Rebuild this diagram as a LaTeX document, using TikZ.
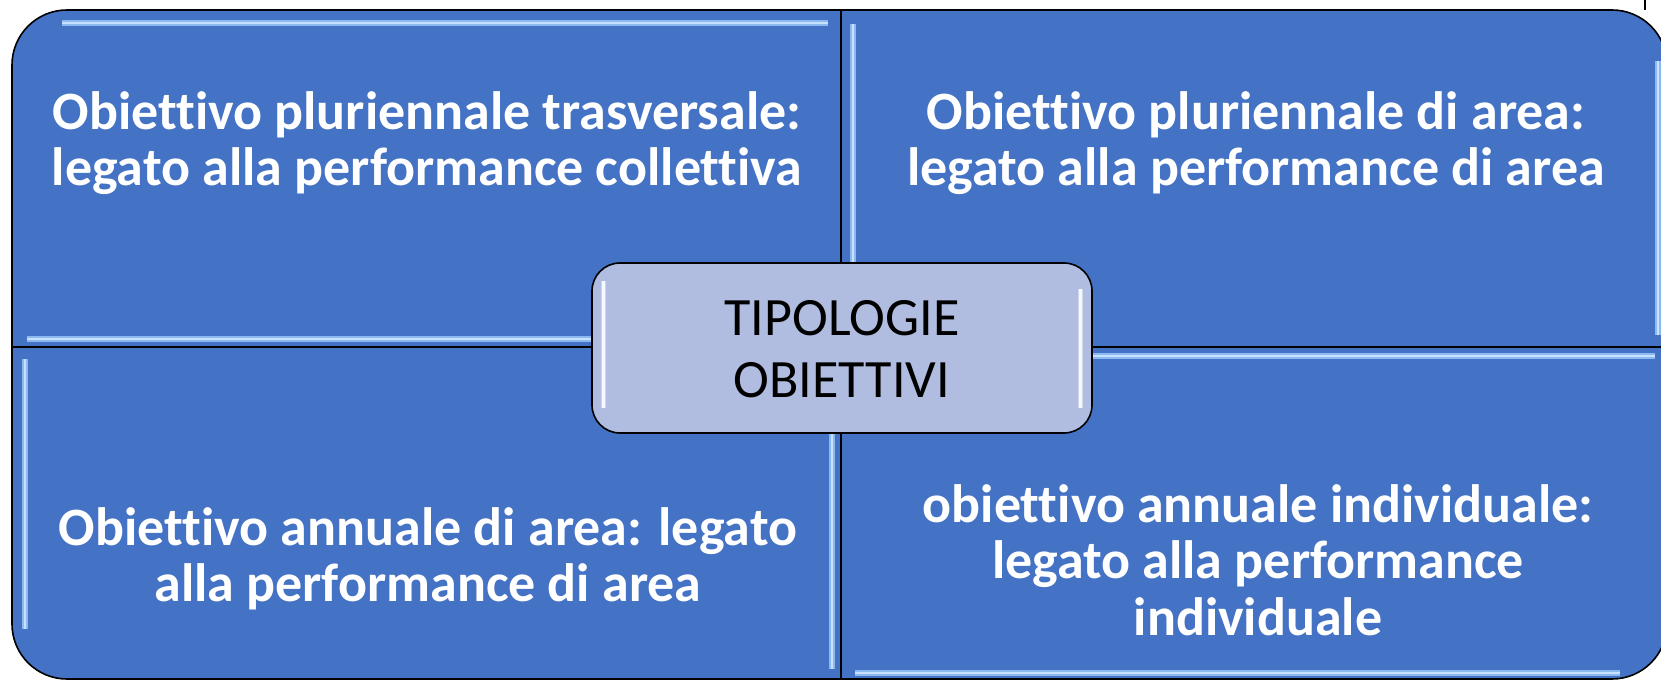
\documentclass[tikz,border=0pt]{standalone}
\usepackage{fontspec}
\setmainfont{Carlito}[Ligatures=NoCommon]
\usepackage{tikz}
\usetikzlibrary{positioning}

\begin{document}
\begin{tikzpicture}[x=1pt,y=1pt]
	\definecolor{quadblue}{RGB}{68,114,196}
	\definecolor{centerfill}{RGB}{176,189,224}
	\definecolor{glowblue}{RGB}{140,185,240}
	\definecolor{glowcore}{RGB}{200,225,255}
	\definecolor{glowwhite}{RGB}{245,248,255}
	\tikzset{
		quad/.style={
			fill=quadblue,
			draw=black,
			line width=1.6pt,
			line join=round
		},
		glow/.style={
			draw=glowblue,
			line width=1.5pt,
			double=glowcore,
			double distance=2.5pt
		},
		cglow/.style={
			draw=centerfill!60!white,
			line width=1pt,
			double=glowwhite,
			double distance=3pt
		},
		quadtext/.style={
			text=white,
			align=center,
			inner sep=0pt,
			font=\fontsize{54}{56.5}\selectfont\bfseries
		},
		centerbox/.style={
			draw=black,
			fill=centerfill,
			line width=1.6pt,
			rounded corners=28pt,
			minimum width=500pt,
			minimum height=170pt
		},
		centertext/.style={
			align=center,
			inner sep=0pt,
			font=\fontsize{54}{62}\selectfont
		}
	}
	\useasboundingbox (0,0) rectangle (1661,681);
	
	% ======= Quadranti =======
	\draw[quad] (841,334) -- (12,334) -- (12,616) arc[start angle=180, end angle=90, radius=55] -- (841,671) -- cycle;
	\draw[quad] (841,334) -- (841,671) -- (1612,671) arc[start angle=90, end angle=0, radius=55] -- (1667,334) -- cycle;
	\draw[quad] (841,334) -- (12,334) -- (12,57) arc[start angle=180, end angle=270, radius=55] -- (841,2) -- cycle;
	\draw[quad] (841,334) -- (1667,334) -- (1667,57) arc[start angle=0, end angle=-90, radius=55] -- (841,2) -- cycle;
	\draw[line width=1.6pt] (1645,671) -- (1645,681);
	
	% ======= Riflessi =======
	\draw[glow] (62,658) -- (828,658);
	\draw[glow] (27,342) -- (828,342);
	\draw[glow] (853,657) -- (853,346);
	\draw[glow] (1658,620) -- (1658,346);
	\draw[glow] (25,322) -- (25,52);
	\draw[glow] (832,322) -- (832,12);
	\draw[glow] (853,325) -- (1655,325);
	\draw[glow] (855,8) -- (1620,8);
	
	% ======= Testi =======
	\node[quadtext] (trasversale) at (427,538) {Obiettivo pluriennale trasversale:\\legato alla performance collettiva};
	\node[quadtext] (area) at (1256,538) {Obiettivo pluriennale di area:\\legato alla performance di area};
	\node[quadtext] (annuale) at (428,122) {Obiettivo annuale di area: legato\\alla performance di area};
	\node[quadtext] (individuale) at (1258,121) {obiettivo annuale individuale:\\legato alla performance\\individuale};
	
	% ======= Centro =======
	\node[centerbox] (tipologie) at (842,333) {};
	\draw[cglow] ([shift={(12,-19)}]tipologie.north west) -- ([shift={(12,26)}]tipologie.south west);
	\draw[cglow] ([shift={(-12,-27)}]tipologie.north east) -- ([shift={(-12,26)}]tipologie.south east);
	\node[centertext] (tipologietesto) at ([yshift=-1]tipologie.center) {TIPOLOGIE\\OBIETTIVI};
\end{tikzpicture}
\end{document}
